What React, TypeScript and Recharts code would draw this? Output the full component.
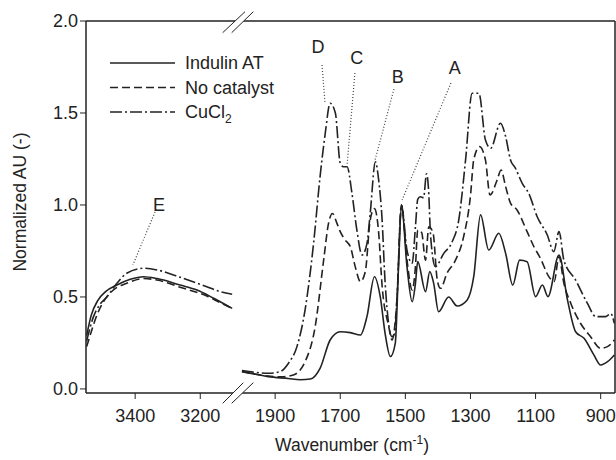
import React from 'react';
import { LineChart, Line, XAxis, YAxis, ReferenceLine, ReferenceDot, Legend } from 'recharts';

// the O-H panel (left) shares the fingerprint panel's scale, it is just shifted over the gap
const SHIFT = 1070;
const toAxis = (wn: number) => (wn > 2500 ? wn - SHIFT : wn);

// [wavenumber cm-1, normalized AU]
const indulinLeft = [
  [3549, 0.29], [3535, 0.4], [3515, 0.48], [3490, 0.53], [3456, 0.565], [3415, 0.596],
  [3374, 0.61], [3333, 0.6], [3262, 0.565], [3210, 0.538], [3159, 0.493], [3102, 0.438],
];
const noCatLeft = [
  [3549, 0.23], [3535, 0.31], [3520, 0.39], [3497, 0.475], [3467, 0.538], [3426, 0.574],
  [3374, 0.6], [3333, 0.592], [3262, 0.553], [3180, 0.505], [3140, 0.47], [3102, 0.438],
];
const cuclLeft = [
  [3549, 0.26], [3528, 0.393], [3508, 0.46], [3487, 0.5], [3456, 0.574], [3426, 0.629],
  [3374, 0.656], [3333, 0.647], [3262, 0.607], [3180, 0.556], [3139, 0.529], [3102, 0.515],
];

const indulinRight = [
  [2002, 0.094], [1960, 0.08], [1921, 0.067], [1860, 0.057], [1823, 0.05], [1792, 0.054],
  [1762, 0.112], [1731, 0.266], [1700, 0.311], [1669, 0.306], [1638, 0.293], [1618, 0.393],
  [1595, 0.61], [1577, 0.5], [1562, 0.3], [1546, 0.176], [1531, 0.248], [1521, 0.665],
  [1512, 1.0], [1495, 0.665], [1479, 0.474], [1469, 0.574], [1462, 0.692], [1438, 0.529],
  [1425, 0.638], [1413, 0.574], [1398, 0.42], [1367, 0.5], [1341, 0.451], [1310, 0.484],
  [1290, 0.61], [1269, 0.946], [1244, 0.755], [1213, 0.846], [1192, 0.737], [1170, 0.565],
  [1149, 0.7], [1126, 0.692], [1100, 0.502], [1079, 0.565], [1062, 0.502], [1028, 0.728],
  [1002, 0.484], [977, 0.311], [951, 0.275], [921, 0.185], [900, 0.13], [879, 0.148], [858, 0.185],
];
const noCatRight = [
  [2002, 0.095], [1960, 0.08], [1921, 0.07], [1880, 0.066], [1844, 0.076], [1808, 0.148],
  [1777, 0.339], [1751, 0.7], [1736, 0.9], [1724, 0.954], [1710, 0.9], [1700, 0.855],
  [1685, 0.81], [1669, 0.773], [1654, 0.665], [1638, 0.583], [1623, 0.638], [1608, 0.918],
  [1595, 0.98], [1582, 0.85], [1572, 0.574], [1551, 0.339], [1541, 0.266], [1526, 0.484],
  [1512, 1.0], [1495, 0.7], [1479, 0.538], [1469, 0.665], [1462, 0.864], [1450, 0.85],
  [1438, 0.7], [1428, 0.882], [1415, 0.85], [1402, 0.592], [1392, 0.547], [1372, 0.629],
  [1346, 0.7], [1321, 0.828], [1300, 1.05], [1290, 1.245], [1272, 1.317], [1254, 1.245],
  [1240, 1.054], [1218, 1.136], [1206, 1.19], [1192, 1.1], [1177, 1.01], [1157, 0.973],
  [1126, 0.855], [1105, 0.773], [1085, 0.71], [1059, 0.61], [1043, 0.583], [1028, 0.719],
  [1013, 0.574], [992, 0.466], [962, 0.357], [931, 0.284], [900, 0.221], [879, 0.23], [858, 0.266],
];
const cuclRight = [
  [2002, 0.1], [1960, 0.09], [1921, 0.085], [1885, 0.094], [1859, 0.14], [1833, 0.23],
  [1808, 0.43], [1782, 0.79], [1762, 1.154], [1746, 1.39], [1731, 1.553], [1715, 1.5],
  [1700, 1.227], [1690, 1.208], [1679, 1.208], [1664, 1.063], [1649, 0.864], [1633, 0.728],
  [1618, 0.79], [1608, 0.954], [1592, 1.235], [1582, 1.136], [1572, 0.936], [1562, 0.574],
  [1541, 0.284], [1533, 0.3], [1526, 0.484], [1512, 1.0], [1495, 0.755], [1479, 0.683],
  [1469, 0.882], [1462, 1.03], [1454, 1.045], [1444, 1.04], [1435, 1.17], [1428, 1.06],
  [1423, 0.846], [1408, 0.665], [1382, 0.737], [1356, 0.8], [1336, 0.918], [1315, 1.245],
  [1295, 1.607], [1274, 1.607], [1254, 1.353], [1238, 1.308], [1208, 1.444], [1192, 1.372],
  [1177, 1.245], [1162, 1.2], [1141, 1.118], [1121, 1.063], [1095, 0.936], [1064, 0.837],
  [1044, 0.746], [1028, 0.855], [1013, 0.7], [977, 0.592], [941, 0.466], [915, 0.393],
  [885, 0.393], [869, 0.41], [858, 0.357],
];

const leftTicks = [3400, 3200];
const rightTicks = [1900, 1700, 1500, 1300, 1100, 900];
const yTicks = [0, 0.5, 1, 1.5, 2];

// peak labels: [label, text wn, text AU, leader start wn, AU, leader end wn, AU]
const peakLabels = [
  ['D', 1768, 1.86, 1756, 1.761, 1747, 1.56],
  ['C', 1649, 1.8, 1655, 1.717, 1679, 1.217],
  ['B', 1523, 1.7, 1535, 1.63, 1593, 1.245],
  ['A', 1348, 1.745, 1360, 1.663, 1510, 1.027],
  ['E', 3327, 1.0, 3339, 0.962, 3407, 0.674],
] as const;

const INK = '#222';

const series = [
  { name: 'Indulin AT', dash: undefined, left: indulinLeft, right: indulinRight },
  { name: 'No catalyst', dash: '8 4', left: noCatLeft, right: noCatRight },
  { name: 'CuCl2', dash: '12 3 2 3', left: cuclLeft, right: cuclRight },
];

const toPoints = (pairs: number[][]) => pairs.map(([wn, au]) => ({ x: toAxis(wn), au }));

const LegendBox = () => (
  <svg width={200} height={85}>
    {series.map((s, i) => (
      <g key={s.name}>
        <line x1={10} x2={75} y1={18 + i * 24.5} y2={18 + i * 24.5} stroke={INK} strokeWidth={1.5} strokeDasharray={s.dash} />
        <text x={85} y={18 + i * 24.5} dy="0.35em" fontSize={18} fill={INK}>
          {s.name === 'CuCl2' ? (
            <>
              CuCl<tspan fontSize={12} dy={5}>2</tspan>
            </>
          ) : (
            s.name
          )}
        </text>
      </g>
    ))}
  </svg>
);

export default function App() {
  return (
    <div style={{ position: 'absolute', left: 0, top: 0, width: 616, height: 460, fontFamily: '"Liberation Sans", Arial, sans-serif' }}>
      <LineChart width={616} height={460} margin={{ top: 21, right: 1, bottom: 27, left: 0 }}>
        <XAxis
          dataKey="x"
          type="number"
          domain={[856, 2481]}
          reversed
          allowDataOverflow
          ticks={[...leftTicks.map(toAxis), ...rightTicks]}
          tickFormatter={(v: number) => String(v > 2010 ? v + SHIFT : v)}
          height={40}
          tickSize={6}
          tickMargin={10}
          axisLine={{ stroke: INK, strokeWidth: 1.5 }}
          tickLine={{ stroke: INK }}
          tick={{ fill: INK, fontSize: 18 }}
        />
        <YAxis
          type="number"
          domain={[-0.022, 2]}
          allowDataOverflow
          ticks={yTicks}
          tickFormatter={(v: number) => v.toFixed(1)}
          width={86}
          tickSize={6}
          axisLine={{ stroke: INK, strokeWidth: 1.5 }}
          tickLine={{ stroke: INK }}
          tick={{ fill: INK, fontSize: 18 }}
        />
        <ReferenceLine y={2} stroke={INK} strokeWidth={1.5} />
        <ReferenceLine x={856} stroke={INK} strokeWidth={1.5} />
        {peakLabels.map(([label, tw, ta, sw, sa, ew, ea]) => (
          <ReferenceLine
            key={'l' + label}
            segment={[{ x: toAxis(sw), y: sa }, { x: toAxis(ew), y: ea }]}
            stroke="#444"
            strokeWidth={1.2}
            strokeDasharray="1 2"
          />
        ))}
        {peakLabels.map(([label, tw, ta]) => (
          <ReferenceDot
            key={'t' + label}
            x={toAxis(tw)}
            y={ta}
            r={0}
            fill="none"
            stroke="none"
            label={{ value: label, position: 'center', fill: INK, fontSize: 18 }}
          />
        ))}
        {series.flatMap((s) =>
          [s.left, s.right].map((seg, j) => (
            <Line
              key={s.name + j}
              data={toPoints(seg)}
              dataKey="au"
              type="monotone"
              dot={false}
              stroke={INK}
              strokeWidth={1.6}
              strokeDasharray={s.dash}
              isAnimationActive={false}
            />
          ))
        )}
        <Legend
          layout="vertical"
          verticalAlign="middle"
          align="center"
          wrapperStyle={{ left: 100, top: 45, width: 200, height: 85 }}
          content={() => <LegendBox />}
        />
      </LineChart>
      <svg width={616} height={460} style={{ position: 'absolute', left: 0, top: 0, pointerEvents: 'none' }}>
        <polygon points="222.7,32.7 245,11.7 253.3,11.7 231.7,32.7" fill="#fff" />
        <line x1={222.7} y1={32.7} x2={245} y2={11.7} stroke={INK} strokeWidth={1} />
        <line x1={231.7} y1={32.7} x2={253.3} y2={11.7} stroke={INK} strokeWidth={1} />
        <polygon points="222.7,403.3 243.3,382.7 253.3,382.7 231.7,403.3" fill="#fff" />
        <line x1={222.7} y1={403.3} x2={243.3} y2={382.7} stroke={INK} strokeWidth={1} />
        <line x1={231.7} y1={403.3} x2={253.3} y2={382.7} stroke={INK} strokeWidth={1} />
        <text x={352} y={445} textAnchor="middle" dy="0.35em" fontSize={17.5} fill={INK}>
          Wavenumber (cm<tspan fontSize={12} dy={-7}>-1</tspan>
          <tspan dy={7}>)</tspan>
        </text>
        <text transform="translate(20,202) rotate(-90)" textAnchor="middle" dy="0.35em" fontSize={17.5} fill={INK}>
          Normalized AU (-)
        </text>
      </svg>
    </div>
  );
}
